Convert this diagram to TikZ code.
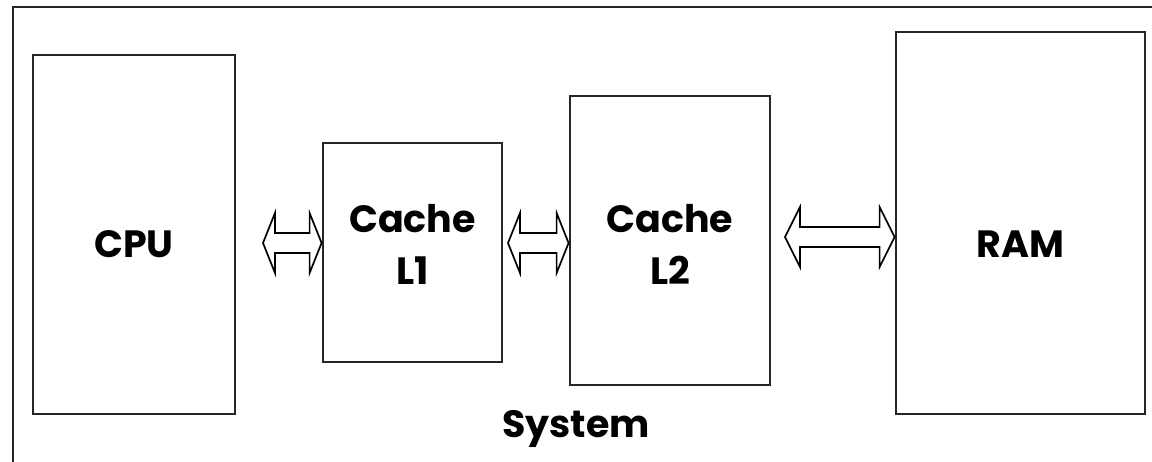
\documentclass[tikz,border=0pt]{standalone}
\usepackage{fontspec}
\setmainfont{Poppins}
\usetikzlibrary{calc}

\tikzset{
  unit/.style={draw=black!85,line width=2.8pt,fill=white,inner sep=0pt},
  lbl/.style={font=\bfseries\fontsize{38}{52}\selectfont,align=center,inner sep=0pt},
  bus/.style={draw=black,line width=1.7pt,fill=white,line join=miter}
}

% hollow double-headed bus arrow: from tip, to tip, head length
\newcommand{\busarrow}[3]{%
  \draw[bus] (#1) -- ($(#1)+(#3,-30)$) -- ($(#1)+(#3,-10)$) -- ($(#2)+(-#3,-10)$) -- ($(#2)+(-#3,-30)$) -- (#2)
    -- ($(#2)+(-#3,30)$) -- ($(#2)+(-#3,10)$) -- ($(#1)+(#3,10)$) -- ($(#1)+(#3,30)$) -- cycle;}

\begin{document}
\begin{tikzpicture}[x=1pt,y=-1pt]
\useasboundingbox (0,0) rectangle (1152,462);

% system frame
\draw[line width=2.8pt,black!85] (1160,7) -- (13,7) -- (13,470);

\node[unit,minimum width=202,minimum height=359] (cpu) at (134,234.5) {};
\node[unit,minimum width=179,minimum height=219] (l1) at (412.5,252.5) {};
\node[unit,minimum width=200,minimum height=289] (l2) at (670,240.5) {};
\node[unit,minimum width=249,minimum height=382] (ram) at (1020.5,223) {};

\coordinate (row) at (0,244);
\node[lbl] (cpulbl) at (cpu |- row) {CPU};
\node[lbl] (l1lbl) at (l1 |- row) {Cache\\L1};
\node[lbl] (l2lbl) at (l2 |- row) {Cache\\L2};
\node[lbl] (ramlbl) at (ram |- row) {RAM};
\node[lbl] (sys) at (576,429) {System};

% buses between the levels
\coordinate (bus1) at (263,243);
\coordinate (bus2) at (508,243);
\coordinate (bus3) at (785,237);
\coordinate (bus1e) at (l1.west |- bus1);
\coordinate (bus2e) at (l2.west |- bus2);
\coordinate (bus3e) at (ram.west |- bus3);
\busarrow{bus1}{bus1e}{12}
\busarrow{bus2}{bus2e}{12}
\busarrow{bus3}{bus3e}{15}
\end{tikzpicture}
\end{document}
